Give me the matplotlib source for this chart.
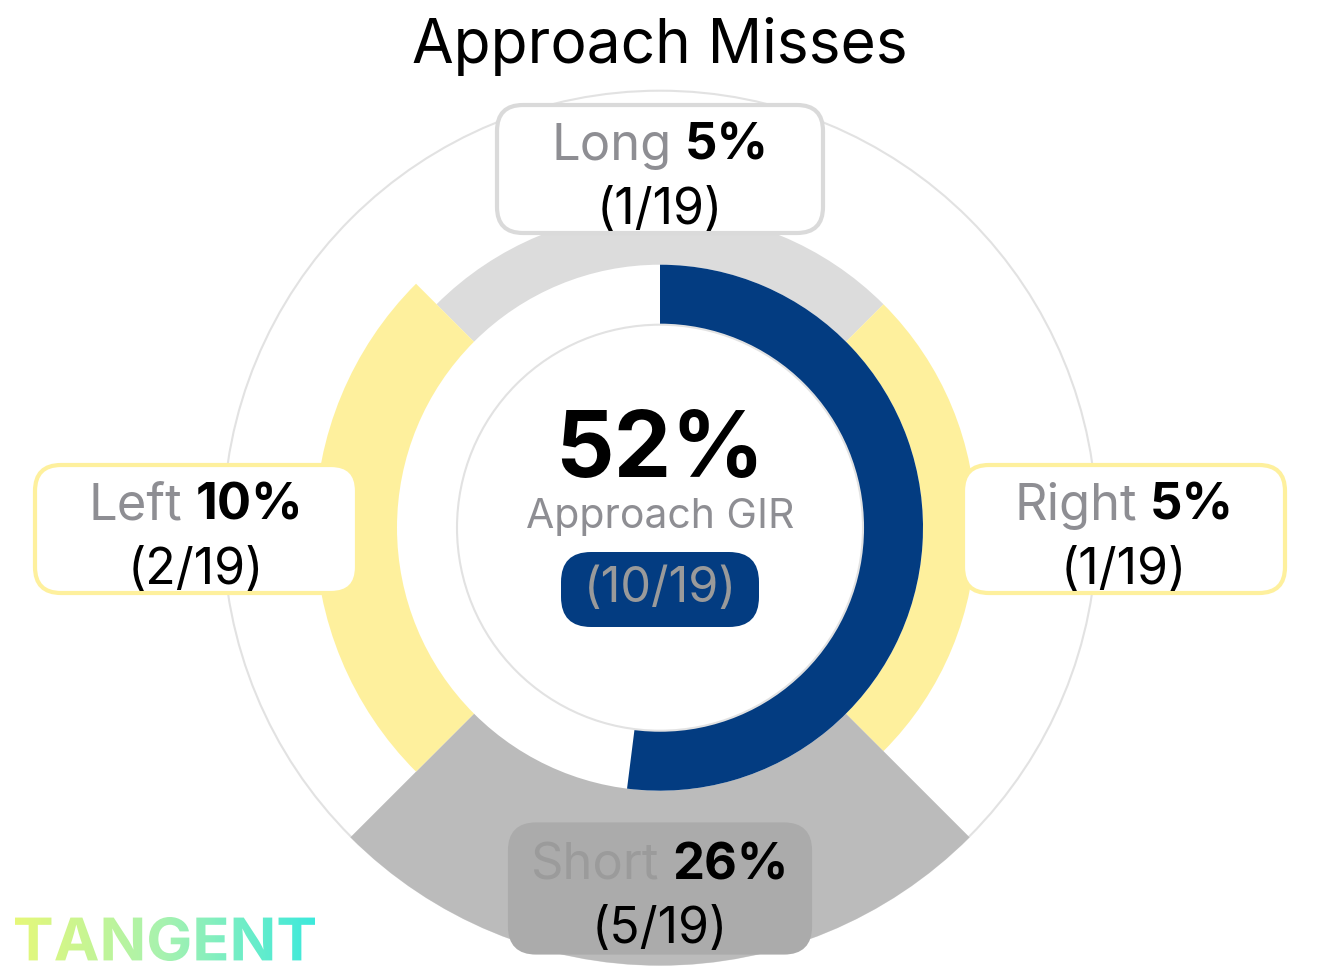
import numpy as np
import matplotlib
matplotlib.use("Agg")
import matplotlib.pyplot as plt
from matplotlib.patches import Wedge, Circle, FancyBboxPatch, PathPatch
from matplotlib.textpath import TextPath
from matplotlib.font_manager import FontProperties
from matplotlib.transforms import Affine2D
from matplotlib.colors import LinearSegmentedColormap

plt.rcParams['font.family'] = ['Inter', 'DejaVu Sans']

# data
directions = ["Long", "Right", "Short", "Left"]
miss_pct = [5, 5, 26, 10]
miss_count = [1, 1, 5, 2]
total_shots = 19
gir_count = 10
gir_pct = 52

# style
BLUE = '#033C81'
YELLOW = '#FEF09D'
seg_colors = {"Long": '#DCDCDC', "Right": YELLOW, "Short": '#BBBBBB', "Left": YELLOW}
box_face = {"Long": 'white', "Right": 'white', "Short": '#ABABAB', "Left": 'white'}
box_edge = {"Long": '#DADADA', "Right": YELLOW, "Short": '#ABABAB', "Left": YELLOW}
name_color = {"Long": '#8E8E93', "Right": '#8E8E93', "Short": '#9B9B9B', "Left": '#8E8E93'}
seg_angle = {"Long": 90, "Right": 0, "Short": 270, "Left": 180}

W, H = 1320, 970
fig = plt.figure(figsize=(W / 100, H / 100), dpi=100)
ax = fig.add_axes([0, 0, 1, 1])
renderer = fig.canvas.get_renderer()

cx, cy = 660, H - 528.7
r_in, r_gir = 203, 263


def miss_radius(p):
    # outer radius of a miss sector grows with its share
    return r_gir + 24 + 5.8 * p


# background rings
ax.add_patch(Circle((cx, cy), 437, fill=False, ec='#E2E2E2', lw=1.5, zorder=1))
ax.add_patch(Circle((cx, cy), r_in, fill=False, ec='#E2E2E2', lw=1.5, zorder=4))

# miss sectors
for d, p in zip(directions, miss_pct):
    a = seg_angle[d]
    ro = miss_radius(p)
    ax.add_patch(Wedge((cx, cy), ro, a - 45, a + 45, width=ro - r_gir,
                       fc=seg_colors[d], ec='none', zorder=2))

# GIR arc, clockwise from 12 o'clock
ax.add_patch(Wedge((cx, cy), r_gir, 90 - 3.6 * gir_pct, 90, width=r_gir - r_in,
                   fc=BLUE, ec='none', zorder=3))


def two_part(x, y, a, b, size, ca, cb):
    t1 = ax.text(0, y, a, ha='left', va='baseline', fontsize=size, color=ca, zorder=7)
    t2 = ax.text(0, y, b, ha='left', va='baseline', fontsize=size, color=cb,
                 fontweight='bold', zorder=7)
    w1 = t1.get_window_extent(renderer).width
    w2 = t2.get_window_extent(renderer).width
    gap = 0.26 * size * 100 / 72
    x0 = x - (w1 + gap + w2) / 2
    t1.set_x(x0)
    t2.set_x(x0 + w1 + gap)


# label boxes: centre (x, y in image coords), width
label_pos = {"Long": (660, 170, 326), "Right": (1124, 530, 322),
             "Short": (660, 889.5, 300), "Left": (196, 530, 322)}
box_h = 128
for d, p, n in zip(directions, miss_pct, miss_count):
    bx, by, bw = label_pos[d]
    by = H - by
    ax.add_patch(FancyBboxPatch((bx - bw / 2, by - box_h / 2), bw, box_h,
                                boxstyle="round,pad=0,rounding_size=26",
                                fc=box_face[d], ec=box_edge[d], lw=3, zorder=6))
    two_part(bx, by + 10, d, f"{p}%", 36.5, name_color[d], 'black')
    ax.text(bx, by - 54, f"({n}/{total_shots})", ha='center', va='baseline',
            fontsize=36, color='black', zorder=7)

# centre
ax.text(cx, H - 476.7, f"{gir_pct}%", ha='center', va='baseline', fontsize=66,
        fontweight='bold', color='black', zorder=7)
ax.text(cx, H - 528, "Approach GIR", ha='center', va='baseline', fontsize=29.5,
        color='#8E8E93', zorder=7)
ax.add_patch(FancyBboxPatch((cx - 99, H - 628), 198, 75,
                            boxstyle="round,pad=0,rounding_size=30",
                            fc=BLUE, ec='none', zorder=6))
ax.text(cx, H - 602, f"({gir_count}/{total_shots})", ha='center', va='baseline',
        fontsize=35, color='#9A9A9A', zorder=7)

# title
ax.text(cx, H - 63, "Approach Misses", ha='center', va='baseline', fontsize=43.5,
        color='black')

# gradient logo
tp = TextPath((0, 0), "TANGENT", size=60,
              prop=FontProperties(family=['Inter', 'DejaVu Sans'], weight='bold'))
bb = tp.get_extents()
lx0, lx1, ly0, ly1 = 15, 315, H - 962, H - 918
tr = Affine2D().translate(-bb.x0, -bb.y0).scale((lx1 - lx0) / bb.width,
                                                 (ly1 - ly0) / bb.height).translate(lx0, ly0)
logo = PathPatch(tr.transform_path(tp), fc='none', ec='none')
ax.add_patch(logo)
cmap = LinearSegmentedColormap.from_list('tangent', ['#E6F879', '#A6F2B0', '#3DE9DC'])
im = ax.imshow(np.linspace(0, 1, 256).reshape(1, -1), extent=[lx0, lx1, ly0, ly1],
               cmap=cmap, aspect='auto', zorder=8)
im.set_clip_path(logo)

ax.set_xlim(0, W)
ax.set_ylim(0, H)
ax.axis('off')

fig.savefig("out.png", dpi=100, facecolor='white')
